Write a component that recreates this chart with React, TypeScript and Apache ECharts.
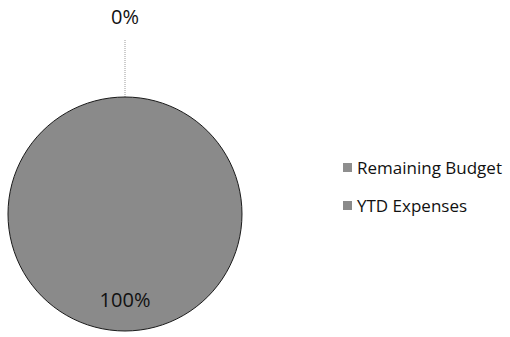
import React, { useEffect, useRef } from "react";
import * as echarts from "echarts";

const categories = ["Remaining Budget", "YTD Expenses"];
const values = [0, 100];
const sliceColors = ["#8e8e8e", "#8a8a8a"];

export default function App() {
  const ref = useRef<HTMLDivElement>(null);
  useEffect(() => {
    document.body.style.margin = "0";
    const chart = echarts.init(ref.current!, null, { renderer: "svg" });
    const data = categories.map((name, i) => ({
      name,
      value: values[i],
      itemStyle: {
        color: sliceColors[i],
        borderColor: i === 0 ? "transparent" : "#1a1a1a",
        borderWidth: i === 0 ? 0 : 1,
      },
      label:
        i === 0
          ? { position: "outside", fontSize: 20 }
          : { position: "inside", fontSize: 20 },
      labelLine: i === 0 ? { show: true } : { show: false },
    }));
    chart.setOption({
      animation: false,
      backgroundColor: "#ffffff",
      legend: {
        orient: "vertical",
        left: 338,
        top: 154,
        itemWidth: 9,
        itemHeight: 9,
        itemGap: 21,
        icon: "rect",
        itemStyle: { borderWidth: 0 },
        textStyle: { fontFamily: "Open Sans", fontSize: 17, color: "#111111" },
        data: categories,
      },
      series: [
        {
          type: "pie",
          center: [125, 214],
          radius: [0, 117],
          startAngle: 90,
          clockwise: true,
          avoidLabelOverlap: false,
          percentPrecision: 0,
          data,
          label: {
            show: true,
            formatter: "{d}%",
            color: "#111111",
            fontFamily: "Open Sans",
            fontSize: 20,
          },
          labelLine: {
            length: 58,
            length2: 0,
            lineStyle: { color: "#9a9a9a", width: 1, type: "dotted" },
          },
          labelLayout: (p: any) => {
            if (p.dataIndex === 0 && p.labelLinePoints) {
              const pts = p.labelLinePoints;
              const end = pts[pts.length - 1];
              return {
                x: end[0],
                y: end[1] - 13,
                align: "center",
                verticalAlign: "bottom",
                labelLinePoints: pts,
              };
            }
            if (p.dataIndex === 1) {
              return { dy: 24 };
            }
            return {};
          },
        },
      ],
    });
    return () => chart.dispose();
  }, []);
  return <div ref={ref} style={{ width: 510, height: 337 }} />;
}
